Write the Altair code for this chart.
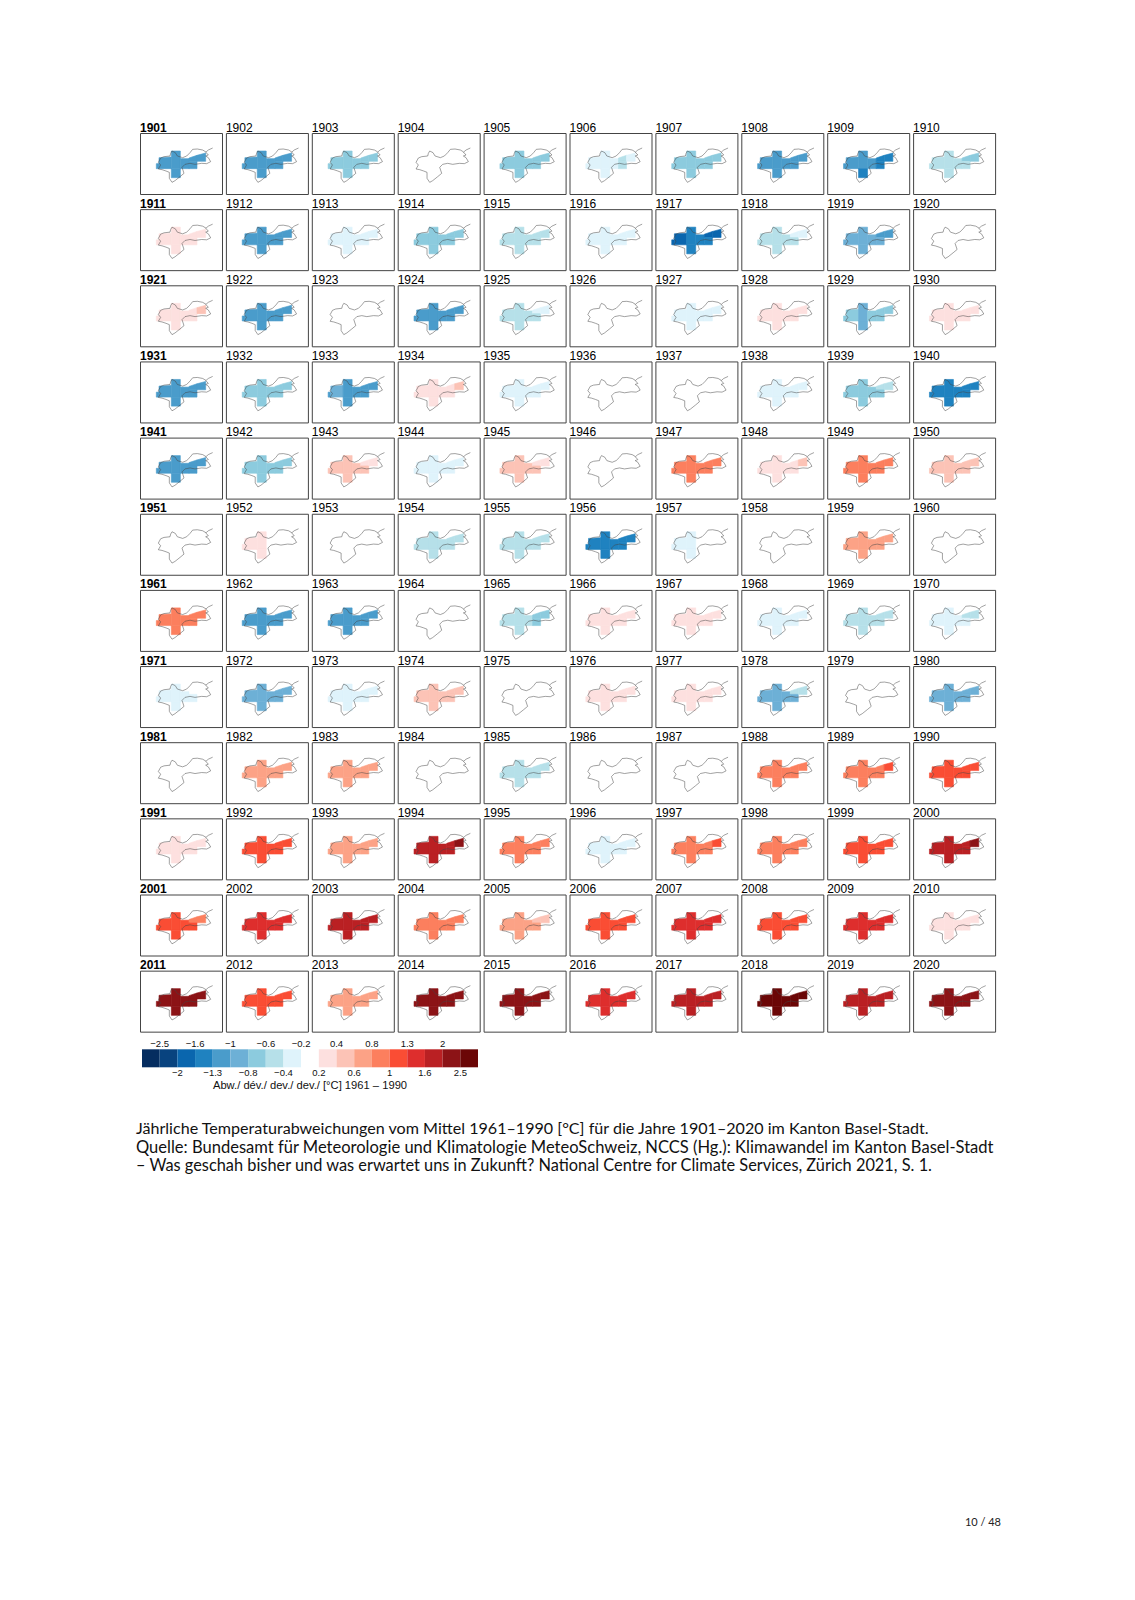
import altair as alt
import pandas as pd

# Yearly anomaly (°C) per decade, main value of the canton's grid cells, read as class midpoints
d1900 = [-1.15, -1.15, -0.7, 0, -0.7, -0.3, -0.7, -1.15, -1.15, -0.5]
d1910 = [0.3, -1.15, -0.3, -0.7, -0.5, -0.3, -1.45, -0.5, -0.9, 0]
d1920 = [0.3, -1.15, 0, -1.15, -0.5, 0, -0.3, 0.3, -0.7, 0.3]
d1930 = [-1.15, -0.7, -1.15, 0.3, -0.3, 0, 0, -0.3, -0.7, -1.45]
d1940 = [-1.15, -0.7, 0.5, -0.3, 0.5, 0, 0.9, 0.3, 0.9, 0.5]
d1950 = [0, 0.3, 0, -0.5, -0.5, -1.45, -0.3, 0, 0.7, 0]
d1960 = [0.9, -1.15, -1.15, 0, -0.5, 0.3, 0.3, -0.3, -0.5, -0.3]
d1970 = [-0.3, -0.9, -0.3, 0.5, 0, 0.3, 0.3, -0.9, 0, -0.9]
d1980 = [0, 0.7, 0.7, 0, -0.5, 0, 0, 0.9, 0.9, 1.15]
d1990 = [0.3, 1.15, 0.7, 1.8, 0.9, -0.3, 0.9, 0.9, 1.15, 1.8]
d2000 = [1.15, 1.45, 1.8, 0.9, 0.7, 1.15, 1.45, 1.15, 1.45, 0.3]
d2010 = [2.25, 1.15, 0.7, 2.25, 2.25, 1.45, 1.8, 2.7, 1.8, 2.25]
decades = [d1900, d1910, d1920, d1930, d1940, d1950, d1960, d1970, d1980, d1990, d2000, d2010]

# Cells that differ from the main value of their year
cell_values = {
    (1906, "up"): -0.5, (1906, "low"): -0.5,
    (1909, "ne"): -1.45, (1909, "up"): -1.45, (1909, "low"): -1.45, (1909, "south"): -1.45,
    (1910, "ne"): -0.7, (1910, "up"): -0.7,
    (1917, "ne"): -1.8, (1917, "up"): -1.8, (1917, "west"): -1.8, (1917, "nub"): -1.8,
    (1918, "ne"): -0.3, (1918, "up"): -0.3, (1919, "ne"): -1.15, (1919, "up"): -1.15,
    (1921, "ne"): 0.5, (1925, "ne"): -0.3, (1925, "up"): -0.3,
    (1929, "north"): -0.9, (1929, "south"): -0.9, (1933, "west"): -0.9, (1934, "ne"): 0.5,
    (1939, "ne"): -0.5, (1939, "up"): -0.5, (1943, "ne"): 0.3, (1943, "up"): 0.3,
    (1945, "ne"): 0.3, (1945, "up"): 0.3, (1948, "ne"): 0.5,
    (1952, "ne"): 0, (1952, "up"): 0, (1952, "mid"): 0, (1952, "low"): 0,
    (1957, "ne"): 0, (1957, "up"): 0, (1957, "mid"): 0, (1957, "low"): 0,
    (1965, "ne"): -0.7, (1965, "up"): -0.7, (1965, "low"): -0.7,
    (1970, "ne"): -0.5, (1970, "up"): -0.5, (1971, "ne"): 0, (1971, "up"): 0,
    (1978, "ne"): -0.5, (1978, "up"): -0.5, (1989, "ne"): 1.15, (1997, "ne"): 1.15,
    (2001, "ne"): 0.9, (2001, "up"): 0.9, (2005, "ne"): 0.5, (2005, "up"): 0.5,
    (2000, "ne"): 2.25, (1994, "ne"): 2.25,
}

# Grid cells on the map: name, then (east, north top, north bottom) corners
cells = {
    "nub": [(49, 92, 107), (57, 92, 107)],
    "west": [(57, 74, 107), (94, 72, 107)],
    "north": [(94, 54, 107), (121, 54, 107)],
    "south": [(94, 107, 134), (121, 107, 134)],
    "mid": [(121, 77, 107), (147, 77, 107)],
    "up": [(147, 75, 85), (171, 67, 85)],
    "low": [(147, 85, 107), (171, 85, 107)],
    "ne": [(171, 67, 85), (197, 60, 85)],
}

# Canton outline on the same map
outline_x = [218, 205, 198, 188, 172, 158, 150, 140, 128, 112, 106, 96, 92, 90, 72, 62, 55, 62, 55, 66, 78, 88,
             88, 96, 105, 120, 132, 126, 135, 150, 165, 185, 200, 212, 205, 197, 205, 197]
outline_y = [45, 51, 57, 51, 48, 49, 59, 69, 74, 69, 59, 54, 61, 69, 71, 75, 88, 96, 108, 110, 114, 118,
             136, 148, 143, 131, 121, 103, 94, 91, 94, 91, 92, 86, 74, 69, 66, 57]

breaks = [-2.5, -2, -1.6, -1.3, -1, -0.8, -0.6, -0.4, -0.2, 0.2, 0.4, 0.6, 0.8, 1, 1.3, 1.6, 2, 2.5]
palette = ["#052d60", "#08437f", "#0a66ae", "#1f82c0", "#4a9ccb", "#6db0d6", "#8ccbde", "#b6e0e9", "#dff3fb",
           "#ffffff", "#fde0df", "#fcc3b6", "#fca286", "#fc7f5e", "#fa4d34", "#de2e2d", "#ba2023", "#8c1316", "#6b0606"]
swatch_values = [-2.8, -2.25, -1.8, -1.45, -1.15, -0.9, -0.7, -0.5, -0.3, 0, 0.3, 0.5, 0.7, 0.9, 1.15, 1.45, 1.8, 2.25, 2.8]
labels_above = ["−2.5", "−1.6", "−1", "−0.6", "−0.2", "0.4", "0.8", "1.3", "2"]
labels_below = ["−2", "−1.3", "−0.8", "−0.4", "0.2", "0.6", "1", "1.6", "2.5"]
legend_title = "Abw./ dév./ dev./ dev./ [°C] 1961 – 1990"

caption = [
    "Jährliche Temperaturabweichungen vom Mittel 1961–1990 [°C] für die Jahre 1901–2020 im Kanton Basel-Stadt.",
    "Quelle: Bundesamt für Meteorologie und Klimatologie MeteoSchweiz, NCCS (Hg.): Klimawandel im Kanton Basel-Stadt",
    "– Was geschah bisher und was erwartet uns in Zukunft? National Centre for Climate Services, Zürich 2021, S. 1.",
]
caption_sizes = [16.1, 16.55, 16.35]
page_label = "10 / 48"

FONT = "Liberation Sans"
PANEL_W, PANEL_H = 82, 61
color_scale = alt.Scale(type="threshold", domain=breaks, range=palette)

outline_df = pd.DataFrame({"order": range(len(outline_x)),
                           "e": [v / 3 for v in outline_x], "n": [v / 3 for v in outline_y]})
x_scale = alt.Scale(domain=[0, PANEL_W], nice=False, zero=False)
y_scale = alt.Scale(domain=[PANEL_H, 0], nice=False, zero=False)


def panel(year, main):
    rows = []
    for name, corners in cells.items():
        value = cell_values.get((year, name), main)
        if -0.2 < value < 0.2:
            continue
        for e, top, bottom in corners:
            rows.append({"cell": name, "e": e / 3, "top": top / 3, "bottom": bottom / 3, "value": value})
    cols = ["cell", "e", "top", "bottom", "value"]
    fill = alt.Chart(pd.DataFrame(rows, columns=cols)).mark_area(
        interpolate="linear", opacity=1, strokeWidth=0.6
    ).encode(
        x=alt.X("e:Q", scale=x_scale, axis=None),
        y=alt.Y("top:Q", scale=y_scale, axis=None),
        y2="bottom:Q",
        detail="cell:N",
        color=alt.Color("value:Q", scale=color_scale, legend=None),
        stroke=alt.Stroke("value:Q", scale=color_scale, legend=None),
    )
    line = alt.Chart(outline_df).mark_line(color="#444444", strokeWidth=0.5).encode(
        x=alt.X("e:Q", scale=x_scale, axis=None),
        y=alt.Y("n:Q", scale=y_scale, axis=None),
        order="order:Q",
    )
    bold = (year - 1901) % 10 == 0
    return alt.layer(fill, line).properties(
        width=PANEL_W, height=PANEL_H,
        view=alt.ViewBackground(stroke="#444444", strokeWidth=1),
        title=alt.TitleParams(str(year), anchor="start", font=FONT, fontSize=12,
                              fontWeight="bold" if bold else "normal", color="#000000", offset=-1.5),
    )


panels = [panel(1901 + 10 * i + j, v) for i, decade in enumerate(decades) for j, v in enumerate(decade)]
grid = alt.concat(*panels, columns=10, bounds="flush",
                  spacing=alt.RowColnumber(row=15.15, column=3.9))

# Colour bar
leg_x = alt.Scale(domain=[-2 / 17.67, 19], nice=False, zero=False)
swatch_df = pd.DataFrame({"i": range(19), "j": range(1, 20), "value": swatch_values})
swatches = alt.Chart(swatch_df).mark_rect().encode(
    x=alt.X("i:Q", scale=leg_x, axis=None), x2="j:Q",
    color=alt.Color("value:Q", scale=color_scale, legend=None),
)
above_df = pd.DataFrame({"i": range(1, 19, 2), "t": labels_above})
below_df = pd.DataFrame({"i": range(2, 19, 2), "t": labels_below})
above = alt.Chart(above_df).mark_text(font=FONT, fontSize=9.5, color="#111111", baseline="middle").encode(
    x=alt.X("i:Q", scale=leg_x, axis=None), y=alt.value(-5), text="t:N")
below = alt.Chart(below_df).mark_text(font=FONT, fontSize=9.5, color="#111111", baseline="middle").encode(
    x=alt.X("i:Q", scale=leg_x, axis=None), y=alt.value(24), text="t:N")
title_df = pd.DataFrame({"i": [9.5], "t": [legend_title]})
ltitle = alt.Chart(title_df).mark_text(font=FONT, fontSize=11.2, color="#111111", baseline="middle").encode(
    x=alt.X("i:Q", scale=leg_x, axis=None), y=alt.value(37), text="t:N")
legend = alt.layer(swatches, above, below, ltitle).properties(width=338, height=18)

# Caption and page number
layers = []
for k, line_text in enumerate(caption):
    layers.append(alt.Chart(pd.DataFrame({"t": [line_text]})).mark_text(
        font="Lato", fontSize=caption_sizes[k], color="#111111", align="left", baseline="middle"
    ).encode(x=alt.value(-4), y=alt.value(30.5 + 18.6 * k), text="t:N"))
layers.append(alt.Chart(pd.DataFrame({"t": [page_label]})).mark_text(
    font="Lato", fontSize=11, color="#222222", align="right", baseline="middle"
).encode(x=alt.value(861), y=alt.value(424), text="t:N"))
footer = alt.layer(*layers).properties(width=861, height=430)

chart = alt.vconcat(grid, legend, footer, spacing=5.3).properties(
    padding={"left": 127, "top": 113, "right": 0, "bottom": 0}
).configure_view(stroke="transparent")

chart.save("out.html", embed_options={"renderer": "svg", "actions": False})
